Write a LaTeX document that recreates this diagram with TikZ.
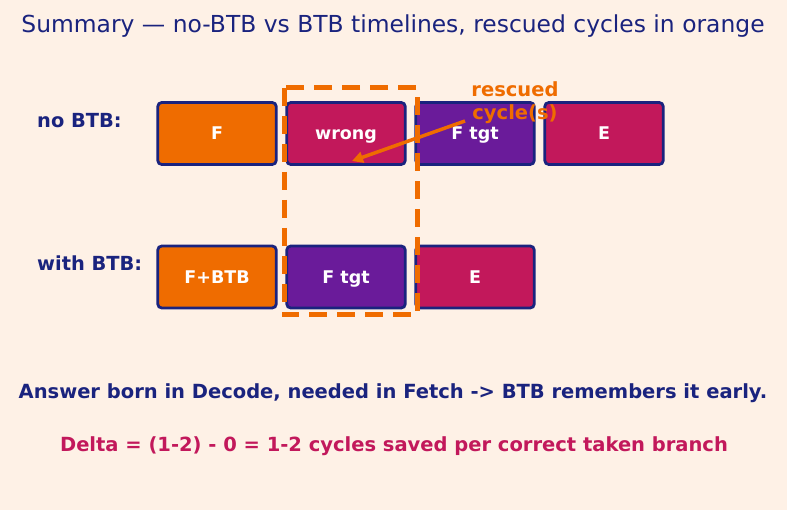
\documentclass[tikz,border=0pt]{standalone}
\usepackage{fontspec}
\setmainfont{DejaVu Sans}
\usetikzlibrary{arrows.meta}
\definecolor{bg}{HTML}{FEF1E6}
\definecolor{navy}{HTML}{1A237E}
\definecolor{orng}{HTML}{EF6C00}
\definecolor{crim}{HTML}{C2185B}
\definecolor{purp}{HTML}{6A1B9A}
\tikzset{
  stagebox/.style={draw=navy, line width=2.8pt, rounded corners=4pt, minimum width=118.5pt, minimum height=62pt, inner sep=0pt},
  boxtext/.style={text=white, font=\fontsize{17.5}{20}\selectfont\bfseries, inner sep=0pt, anchor=base},
  rowlabel/.style={anchor=west, text=navy, font=\fontsize{19.4}{22}\selectfont\bfseries, inner sep=0pt},
}
\begin{document}
\begin{tikzpicture}[x=1pt,y=-1pt]
\fill[bg] (0,0) rectangle (787,510);
\useasboundingbox (0,0) rectangle (787,510);
\node[text=navy, font=\fontsize{23.4}{26}\selectfont] (title) at (393,26) {Summary — no-BTB vs BTB timelines, rescued cycles in orange};
\node[rowlabel] (l1) at (37,121) {no BTB:};
\node[rowlabel] (l2) at (37,263.5) {with BTB:};
\node[stagebox, fill=orng] (a1) at (217,133.5) {};
\node[stagebox, fill=crim] (a2) at (346,133.5) {};
\node[stagebox, fill=purp] (a3) at (475,133.5) {};
\node[stagebox, fill=crim] (a4) at (604,133.5) {};
\node[stagebox, fill=orng] (b1) at (217,277) {};
\node[stagebox, fill=purp] (b2) at (346,277) {};
\node[stagebox, fill=crim] (b3) at (475,277) {};
\node[boxtext] (ta1) at ([yshift=-6.5pt]a1.center) {F};
\node[boxtext] (ta2) at ([yshift=-6.5pt]a2.center) {wrong};
\node[boxtext] (ta3) at ([yshift=-6.5pt]a3.center) {F tgt};
\node[boxtext] (ta4) at ([yshift=-6.5pt]a4.center) {E};
\node[boxtext] (tb1) at ([yshift=-6.5pt]b1.center) {F+BTB};
\node[boxtext] (tb2) at ([yshift=-6.5pt]b2.center) {F tgt};
\node[boxtext] (tb3) at ([yshift=-6.5pt]b3.center) {E};
\draw[orng, line width=5pt, dash pattern=on 18pt off 10pt] (284,88) rectangle (417,315);
\node[text=orng, font=\fontsize{19.5}{23}\selectfont\bfseries, align=center, inner sep=0pt] (resc) at (515,103) {rescued\\cycle(s)};
\coordinate (tip) at (352,161);
\draw[orng, line width=3.5pt, -{Triangle[length=11pt,width=11pt]}] (465,121) -- (tip);
\node[text=navy, font=\fontsize{19.5}{22}\selectfont\bfseries] (ans) at (393,393) {Answer born in Decode, needed in Fetch -> BTB remembers it early.};
\node[text=crim, font=\fontsize{19.5}{22}\selectfont\bfseries] (delta) at (394,446) {Delta = (1-2) - 0 = 1-2 cycles saved per correct taken branch};
\end{tikzpicture}
\end{document}
